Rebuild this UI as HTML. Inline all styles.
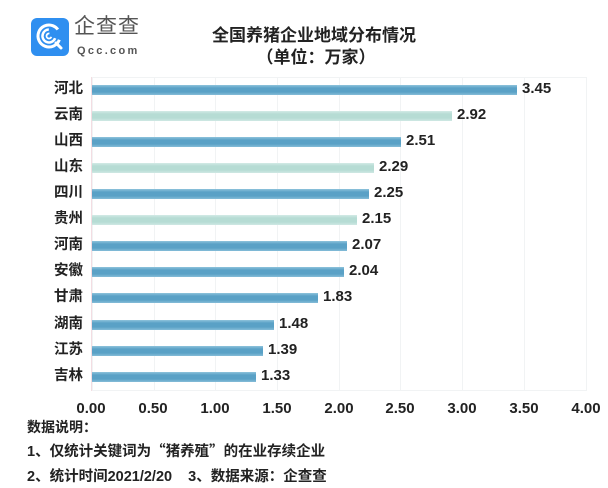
<!DOCTYPE html>
<html><head><meta charset="utf-8">
<style>
*{margin:0;padding:0;box-sizing:border-box}
body{width:608px;height:488px;background:#fff;position:relative;overflow:hidden;font-family:"Liberation Sans","Noto Sans CJK SC",sans-serif;color:#222}
.a{position:absolute;white-space:nowrap}
.cat{position:absolute;right:525px;font-size:14.5px;font-weight:bold;line-height:16px;font-family:"Liberation Sans","Noto Sans CJK SC",sans-serif}
.bar{position:absolute;left:92px;height:10px}
.d{background:linear-gradient(#8fc3dc 0%,#5aa1c6 30%,#5aa1c6 70%,#86bdd8 100%)}
.l{background:linear-gradient(#d3ebe6 0%,#b6dcd4 30%,#b6dcd4 70%,#cfe8e3 100%)}
.val{position:absolute;font-size:15px;font-weight:bold;line-height:16px}
.tick{position:absolute;top:400px;font-size:15px;font-weight:bold;width:40px;text-align:center;margin-left:-20px}
.grid{position:absolute;top:77px;height:314px;width:1px;background:#f1f3f4}
.fn{position:absolute;left:27px;font-size:14.5px;font-weight:bold;line-height:16px}
.cq{font-family:"Noto Sans CJK SC",sans-serif}
</style></head><body>

<!-- logo -->
<div class="a" style="left:31px;top:18px;width:38px;height:38px;border-radius:6px;background:#2f8ff0"></div>
<svg class="a" style="left:31px;top:18px" width="38" height="38" viewBox="0 0 38 38">
<circle cx="18" cy="18" r="11" fill="none" stroke="#fff" stroke-width="3" stroke-dasharray="58 11" transform="rotate(20 18 18)"/>
<line x1="25" y1="25" x2="30" y2="30" stroke="#fff" stroke-width="3" stroke-linecap="round"/>
<circle cx="18" cy="18" r="6.5" fill="none" stroke="#fff" stroke-width="2.5" stroke-dasharray="28 13" transform="rotate(20 18 18)"/>
<circle cx="18" cy="18" r="2.5" fill="none" stroke="#fff" stroke-width="1.8" stroke-dasharray="11 5" transform="rotate(20 18 18)"/>
</svg>
<div class="a" style="left:74px;top:15px;font-size:21px;line-height:24px;color:#555;letter-spacing:1px">企查查</div>
<div class="a" style="left:77px;top:45px;font-size:11px;line-height:13px;color:#555;letter-spacing:2.3px;font-weight:bold">Qcc.com</div>

<!-- title -->
<div class="a" style="left:0;width:628px;text-align:center;top:26px;font-size:17px;font-weight:bold;line-height:20px">全国养猪企业地域分布情况</div>
<div class="a" style="left:0;width:632px;text-align:center;top:48px;font-size:17px;font-weight:bold;line-height:20px">（单位：万家）</div>

<!-- plot area -->
<div class="a" style="left:92px;top:77px;width:495px;height:314px;border:1px solid #f1f3f4"></div>
<div class="grid" style="left:154px"></div>
<div class="grid" style="left:215px"></div>
<div class="grid" style="left:277px"></div>
<div class="grid" style="left:339px"></div>
<div class="grid" style="left:400px"></div>
<div class="grid" style="left:462px"></div>
<div class="grid" style="left:524px"></div>
<div class="a" style="left:91px;top:77px;width:1px;height:314px;background:#f3dde2"></div>

<!-- rows -->
<div class="cat" style="top:81px">河北</div><div class="bar d" style="top:85px;width:425px"></div><div class="val" style="top:81px;left:522px">3.45</div>
<div class="cat" style="top:107px">云南</div><div class="bar l" style="top:111px;width:360px"></div><div class="val" style="top:107px;left:457px">2.92</div>
<div class="cat" style="top:133px">山西</div><div class="bar d" style="top:137px;width:309px"></div><div class="val" style="top:133px;left:406px">2.51</div>
<div class="cat" style="top:159px">山东</div><div class="bar l" style="top:163px;width:282px"></div><div class="val" style="top:159px;left:379px">2.29</div>
<div class="cat" style="top:185px">四川</div><div class="bar d" style="top:189px;width:277px"></div><div class="val" style="top:185px;left:374px">2.25</div>
<div class="cat" style="top:211px">贵州</div><div class="bar l" style="top:215px;width:265px"></div><div class="val" style="top:211px;left:362px">2.15</div>
<div class="cat" style="top:237px">河南</div><div class="bar d" style="top:241px;width:255px"></div><div class="val" style="top:237px;left:352px">2.07</div>
<div class="cat" style="top:263px">安徽</div><div class="bar d" style="top:267px;width:252px"></div><div class="val" style="top:263px;left:349px">2.04</div>
<div class="cat" style="top:289px">甘肃</div><div class="bar d" style="top:293px;width:226px"></div><div class="val" style="top:289px;left:323px">1.83</div>
<div class="cat" style="top:316px">湖南</div><div class="bar d" style="top:320px;width:182px"></div><div class="val" style="top:316px;left:279px">1.48</div>
<div class="cat" style="top:342px">江苏</div><div class="bar d" style="top:346px;width:171px"></div><div class="val" style="top:342px;left:268px">1.39</div>
<div class="cat" style="top:368px">吉林</div><div class="bar d" style="top:372px;width:164px"></div><div class="val" style="top:368px;left:261px">1.33</div>

<!-- ticks -->
<div class="tick" style="left:91px">0.00</div>
<div class="tick" style="left:153px">0.50</div>
<div class="tick" style="left:215px">1.00</div>
<div class="tick" style="left:277px">1.50</div>
<div class="tick" style="left:339px">2.00</div>
<div class="tick" style="left:400px">2.50</div>
<div class="tick" style="left:462px">3.00</div>
<div class="tick" style="left:524px">3.50</div>
<div class="tick" style="left:586px">4.00</div>

<!-- footnotes -->
<div class="fn" style="top:419px;font-size:14px">数据说明：</div>
<div class="fn" style="top:443px">1、仅统计关键词为<span class="cq">“</span>猪养殖<span class="cq">”</span>的在业存续企业</div>
<div class="fn" style="top:469px">2、统计时间2021/2/20&nbsp;&nbsp;&nbsp; 3、数据来源：企查查</div>

</body></html>
